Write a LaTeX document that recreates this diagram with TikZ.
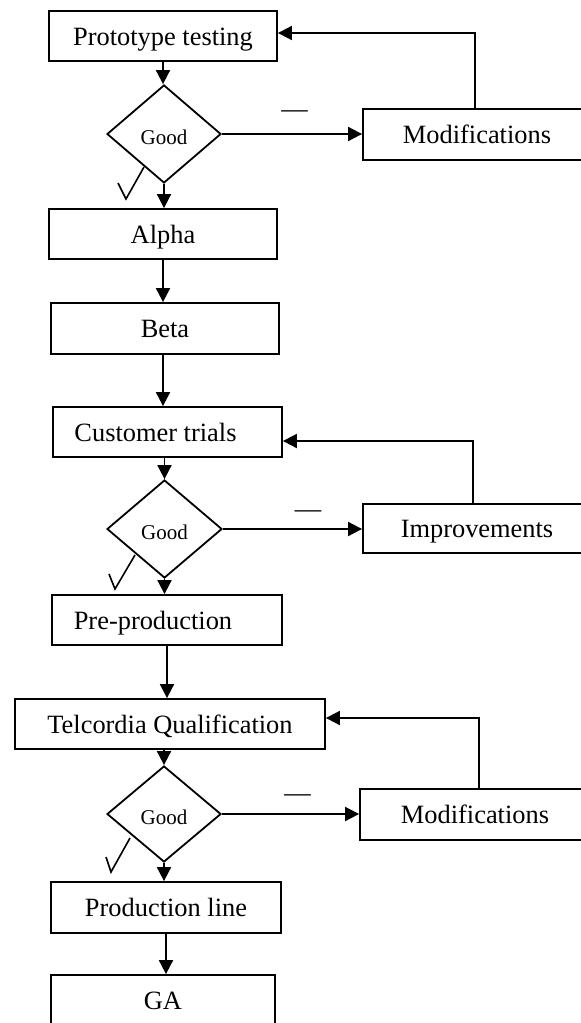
\documentclass[tikz,border=0pt]{standalone}
\usepackage{fontspec}
\setmainfont{Liberation Serif}
\usetikzlibrary{shapes.geometric,arrows.meta}
\begin{document}
\begin{tikzpicture}[x=1pt,y=-1pt,
  flow/.style={line width=1.8pt},
  arr/.style={flow,-{Triangle[length=14pt,width=14pt]}},
  stepbox/.style={draw,line width=1.8pt,rectangle,inner sep=0pt,
    minimum width=228pt,minimum height=50pt,
    font=\fontsize{26.4}{30}\selectfont,text height=18pt,text depth=0pt},
  decide/.style={draw,line width=1.8pt,diamond,inner sep=0pt,
    minimum width=114pt,minimum height=98pt,
    font=\fontsize{21}{24}\selectfont,text height=20pt,text depth=0pt},
  nomark/.style={inner sep=0pt,anchor=base,font=\fontsize{26.4}{30}\selectfont},
  tick/.style={line width=1.6pt,line join=miter}]
\clip (0,0) rectangle (581,1023);

% main line of steps
\node[stepbox] (proto) at (163,36) {Prototype testing};
\node[decide] (good1) at (164,134) {Good};
\node[stepbox] (alpha) at (163,234) {Alpha};
\node[stepbox,minimum height=51pt] (beta) at (165,328.5) {Beta};
\node[stepbox,minimum width=229pt] (cust) at (167.5,432) {\hspace*{-24pt}Customer trials};
\node[decide,minimum width=115pt] (good2) at (164.5,529) {Good};
\node[stepbox,minimum width=230pt] (pre) at (167,620) {\hspace*{-28pt}Pre-production};
\node[stepbox,minimum width=310pt] (telc) at (170,724) {Telcordia Qualification};
\node[decide,minimum height=96pt] (good3) at (164,814) {Good};
\node[stepbox,minimum width=230pt,minimum height=51pt] (prod) at (166,907.5) {Production line};
\node[stepbox,minimum width=224pt] (ga) at (163,1000) {GA};

% rework steps on the right
\node[stepbox,minimum height=51pt] (mod1) at (477,134.5) {Modifications};
\node[stepbox,minimum height=49pt] (impr) at (477,528.5) {Improvements};
\node[stepbox,minimum width=230pt,minimum height=51pt] (mod2) at (475,814.5) {Modifications};

% downward flow
\draw[arr] (proto.south) -- (proto.south |- good1.north);
\draw[arr] (good1.south) -- (good1.south |- alpha.north);
\draw[arr] (alpha.south) -- (alpha.south |- beta.north);
\draw[arr] (alpha.south |- beta.south) -- (alpha.south |- cust.north);
\draw[arr] (good2.north |- cust.south) -- (good2.north);
\draw[arr] (good2.south) -- (good2.south |- pre.north);
\draw[arr] (pre.south) -- (pre.south |- telc.north);
\draw[arr] (good3.north |- telc.south) -- (good3.north);
\draw[arr] (good3.south) -- (good3.south |- prod.north);
\draw[arr] (prod.south) -- (prod.south |- ga.north);

% "no" branches
\draw[arr] (good1.east) -- (good1.east -| mod1.west);
\draw[arr] (good2.east) -- (good2.east -| impr.west);
\draw[arr] (good3.east) -- (good3.east -| mod2.west);

% feedback loops
\coordinate (fb1) at (475,33);
\coordinate (fb2) at (473,441);
\coordinate (fb3) at (479,718);
\draw[arr] (fb1 |- mod1.north) -- (fb1) -- (fb1 -| proto.east);
\draw[arr] (fb2 |- impr.north) -- (fb2) -- (fb2 -| cust.east);
\draw[arr] (fb3 |- mod2.north) -- (fb3) -- (fb3 -| telc.east);

% "no" marks
\node[nomark] (no1) at (294.5,117) {—};
\node[nomark] (no2) at (308,517) {—};
\node[nomark] (no3) at (297.5,801) {—};

% "yes" ticks
\draw[tick] (118,183) -- (126,199) -- (144,167);
\draw[tick] (109,574) -- (115,589) -- (135,555);
\draw[tick] (106,857) -- (111,872) -- (130,838);
\end{tikzpicture}
\end{document}
